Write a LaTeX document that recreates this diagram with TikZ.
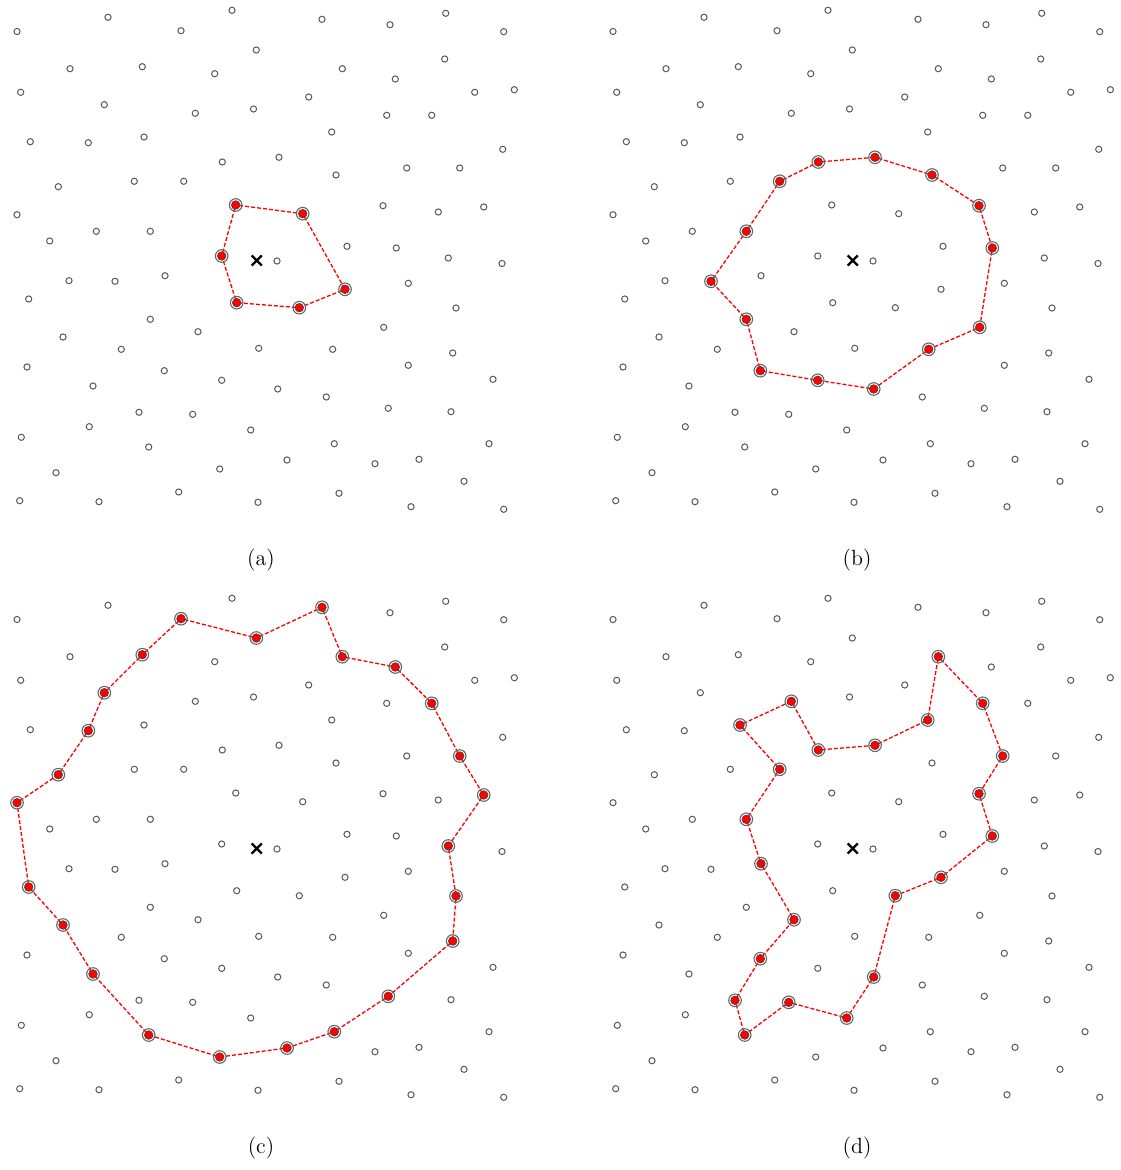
\documentclass[tikz,border=0pt]{standalone}
\usetikzlibrary{shapes.misc}
\begin{document}
\begin{tikzpicture}[x=0.5pt,y=-0.5pt,
  pt/.style={circle,draw=black!65,line width=0.5pt,inner sep=0pt,minimum size=3.1pt},
  vring/.style={circle,draw=black!60,line width=0.55pt,inner sep=0pt,minimum size=6.3pt},
  vtx/.style={circle,fill=red,draw=black!75,line width=0.3pt,inner sep=0pt,minimum size=4.3pt},
  poly/.style={draw=red,line width=0.65pt,dash pattern=on 2pt off 1pt},
  ctr/.style={cross out,draw=black,line width=1.1pt,inner sep=0pt,minimum size=4pt},
  lab/.style={anchor=base,font=\fontsize{11}{13}\selectfont}]
\useasboundingbox (0,0) rectangle (1120,1170);
\def\ptlist{17/31.5, 108/17.3, 181/30.7, 232/10.3, 322/19.3, 390/24.7, 445.7/13.3, 503.7/31.7,
70/68.7, 142.3/66.7, 214.7/73.7, 256.3/50, 342.3/68.7, 395.3/79, 444.7/59, 474.7/92.3, 514.3/89.7,
20.7/92.3, 104.3/104.7, 195.3/113.3, 253.5/109, 308.7/97, 386.7/115.3, 431.7/115.3, 502.7/149.3,
30.3/141.7, 88.3/142.7, 144/137, 222.3/162, 279/157.3, 331.7/132, 406.7/168, 459.7/168,
58.3/186.7, 134.3/181.3, 183.7/181.3, 336/175, 383/205.7, 438.3/212, 483.7/207,
17/214.7, 96.3/231.3, 150.3/231.3, 49.7/241, 235.7/205, 302.7/213.7, 347/246.3, 396.3/248, 448.3/258, 502/263.5,
221.7/256, 277/261, 165/275.7, 69/280.7, 115/281.3, 408.3/283.3, 28.7/299, 150.3/319.3, 198/331.7, 236.7/302.7,
299.3/307.7, 345/289.3, 456/308, 383.7/327.3, 63/337, 121.3/349.3, 258.7/348.3, 332.7/349.3, 452.7/353, 27/367,
164.3/370.7, 221.7/380.3, 93/386, 277.7/389, 326.3/397, 408.3/365.3, 493/379.3, 139/412.3, 192.7/414.3, 250.7/430,
89.3/426.7, 21.3/437.3, 148.7/447, 334.3/443.7, 388.3/408.3, 451/411.7, 489/443.7, 56/472.7, 219.7/469, 287/460,
375/463.7, 419/459.3, 464/481.3, 178.7/492, 19.7/500.7, 99/501.7, 258/502.3, 339/493.3, 411/506.7, 503.7/509.3}
\foreach \p/\sx/\sy in {a/0/0, b/596/0, c/0/588, d/596/588}{
  \foreach \x/\y [count=\i] in \ptlist {
    \node[pt] (\p\i) at ({\x+\sx},{\y+\sy}) {};
  }
  \node[ctr] (x\p) at ({256.7+\sx},{260.5+\sy}) {};
}
% (a)
\draw[poly] (a45) -- (a46) -- (a62) -- (a61) -- (a60) -- (a51) -- (a45);
% (b)
\draw[poly] (b29) -- (b30) -- (b37) -- (b38) -- (b48) -- (b64) -- (b68) -- (b74) -- (b72) -- (b71) -- (b58) -- (b55) -- (b43) -- (b36) -- (b29);
% (c)
\draw[poly] (c3) -- (c12) -- (c5) -- (c13) -- (c14) -- (c24) -- (c33) -- (c40) -- (c49) -- (c63) -- (c69) -- (c85) -- (c84) -- (c90) -- (c89) -- (c83) -- (c73) -- (c65) -- (c57) -- (c41) -- (c34) -- (c27) -- (c19) -- (c10) -- (c3);
% (d)
\draw[poly] (d13) -- (d23) -- (d32) -- (d38) -- (d48) -- (d62) -- (d61) -- (d74) -- (d80) -- (d79) -- (d83) -- (d78) -- (d71) -- (d59) -- (d53) -- (d43) -- (d36) -- (d28) -- (d20) -- (d29) -- (d30) -- (d31) -- (d13);
\foreach \p/\lst in {a/{45,46,62,61,60,51},
  b/{29,30,37,38,48,64,68,74,72,71,58,55,43,36},
  c/{3,12,5,13,14,24,33,40,49,63,69,85,84,90,89,83,73,65,57,41,34,27,19,10},
  d/{13,23,32,38,48,62,61,74,80,79,83,78,71,59,53,43,36,28,20,29,30,31}}{
  \foreach \v in \lst {
    \node[vring] (r\p\v) at (\p\v) {};
    \node[vtx] (v\p\v) at (\p\v) {};
  }
}
\node[lab] (la) at (261,565.5) {(a)};
\node[lab] (lb) at (857,565.5) {(b)};
\node[lab] (lc) at (261,1153.5) {(c)};
\node[lab] (ld) at (857,1153.5) {(d)};
\end{tikzpicture}
\end{document}
